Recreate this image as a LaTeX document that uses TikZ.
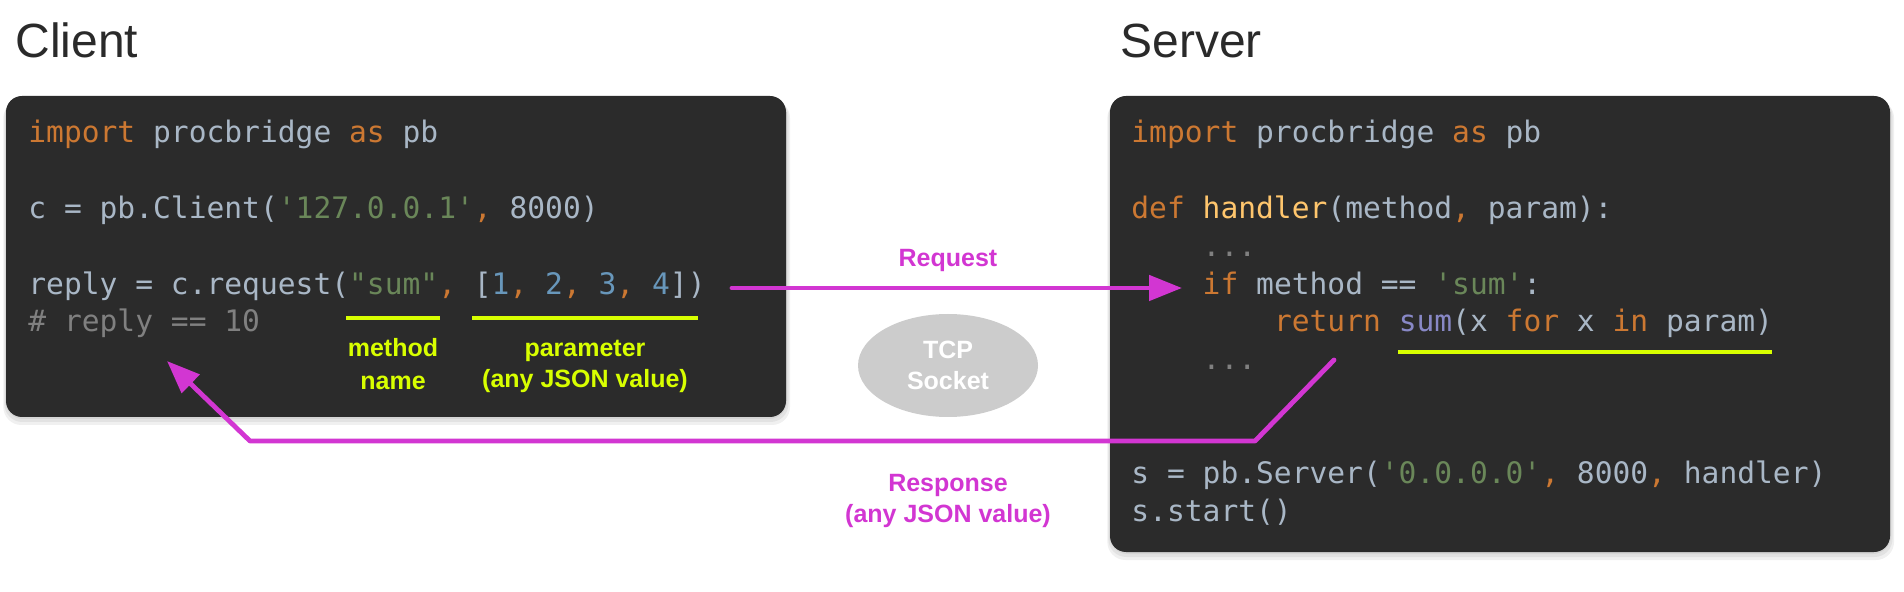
\documentclass[tikz,border=0pt]{standalone}
\usepackage{fontspec}
\setmainfont{Liberation Sans}
\setmonofont{DejaVu Sans Mono}
\usetikzlibrary{arrows.meta,shapes.geometric,fit}
\definecolor{boxbg}{HTML}{2B2B2B}
\definecolor{cdef}{HTML}{A9B7C6}
\definecolor{ckw}{HTML}{CC7832}
\definecolor{cstr}{HTML}{6A8759}
\definecolor{cnum}{HTML}{6897BB}
\definecolor{ccom}{HTML}{808080}
\definecolor{cfun}{HTML}{FFC66D}
\definecolor{cbi}{HTML}{8888C6}
\definecolor{lime}{HTML}{D8FF00}
\definecolor{mag}{HTML}{D236D2}
\definecolor{sockc}{HTML}{CCCCCC}
\definecolor{titlec}{HTML}{2A2A2A}
\newcommand\CKw[1]{\textcolor{ckw}{#1}}
\newcommand\CStr[1]{\textcolor{cstr}{#1}}
\newcommand\CNum[1]{\textcolor{cnum}{#1}}
\newcommand\CCom[1]{\textcolor{ccom}{#1}}
\newcommand\CFun[1]{\textcolor{cfun}{#1}}
\newcommand\CBi[1]{\textcolor{cbi}{#1}}
\frenchspacing
\begin{document}
\begin{tikzpicture}[x=0.5pt,y=-0.5pt,
  codebox/.style={fill=boxbg, rounded corners=8pt, inner sep=0pt, draw=none},
  shade/.style={fill=black, opacity=0.06, rounded corners=9pt},
  code/.style={anchor=base west, inner sep=0pt, text=cdef, font=\ttfamily\fontsize{14.8pt}{18pt}\selectfont},
  title/.style={anchor=base west, inner sep=0pt, text=titlec, font=\fontsize{24pt}{28pt}\selectfont},
  note/.style={anchor=base, inner sep=0pt, text=lime, font=\bfseries\fontsize{12.5pt}{15pt}\selectfont},
  mlabel/.style={note, text=mag},
  hl/.style={draw=lime, line width=2pt},
  flow/.style={draw=mag, line width=2.4pt, line cap=round, line join=round, -{Triangle[length=16.5pt,width=12.5pt]}},
  sock/.style={ellipse, fill=sockc, minimum width=90pt, minimum height=51.5pt, inner sep=0pt, align=center, text=white, font=\bfseries\fontsize{12.5pt}{15.5pt}\selectfont}
]
\useasboundingbox (0,0) rectangle (1904,592);

% titles
\node[title] (tclient) at (15,58) {Client};
\node[title] (tserver) at (1120,58) {Server};

% shadows
\foreach \d in {2,5,8} {
  \fill[shade] (6-\d/3,96+\d/2) rectangle (786+\d/2,417+\d);
  \fill[shade] (1110-\d/3,96+\d/2) rectangle (1890+\d/2,552+\d);
}

% boxes
\node[codebox, fit={(6,96) (786,417)}] (client) {};
\node[codebox, fit={(1110,96) (1890,552)}] (server) {};

% client code
\node[code] (c0) at (28,143) {\CKw{import} procbridge \CKw{as} pb};
\node[code] (c2) at (28,218.6) {c = pb.Client(\CStr{'127.0.0.1'}\CKw{,} 8000)};
\node[code] (c4) at (28,294.2) {reply = c.request(\CStr{"sum"}\CKw{,} [\CNum{1}\CKw{,} \CNum{2}\CKw{,} \CNum{3}\CKw{,} \CNum{4}])};
\node[code] (c5) at (28,332) {\CCom{\# reply == 10}};

% server code
\node[code] (s0) at (1131,143) {\CKw{import} procbridge \CKw{as} pb};
\node[code] (s2) at (1131,218.6) {\CKw{def} \CFun{handler}(method\CKw{,} param):};
\node[code] (s3) at (1202.3,256.4) {\CCom{...}};
\node[code] (s4) at (1202.3,294.2) {\CKw{if} method == \CStr{'sum'}:};
\node[code] (s5) at (1273.6,332) {\CKw{return} \CBi{sum}(x \CKw{for} x \CKw{in} param)};
\node[code] (s6) at (1202.3,369.8) {\CCom{...}};
\node[code] (s9) at (1131,483.2) {s = pb.Server(\CStr{'0.0.0.0'}\CKw{,} 8000\CKw{,} handler)};
\node[code] (s10) at (1131,521) {s.start()};

% highlights
\draw[hl] (346,318) -- (440,318);
\draw[hl] (472,318) -- (698,318);
\draw[hl] (1398,352) -- (1772,352);

\node[note] (mn1) at (393,357) {method};
\node[note] (mn2) at (393,390) {name};
\node[note] (pa1) at (585,357) {parameter};
\node[note] (pa2) at (585,388) {(any JSON value)};

% socket
\node[sock] (tcp) at (948,365.5) {TCP\\Socket};

% request
\coordinate (reqs) at (732,288);
\coordinate (reqe) at (1182,288);
\draw[flow] (reqs) -- (reqe);
\node[mlabel] (reqlab) at (948,267) {Request};

% response
\coordinate (rs) at (1334,360);
\coordinate (rb1) at (1255,441);
\coordinate (rb2) at (250,441);
\coordinate (rt) at (167,361);
\draw[flow] (rs) -- (rb1) -- (rb2) -- (rt);
\node[mlabel] (rsp1) at (948,491) {Response};
\node[mlabel] (rsp2) at (948,523) {(any JSON value)};
\end{tikzpicture}
\end{document}
